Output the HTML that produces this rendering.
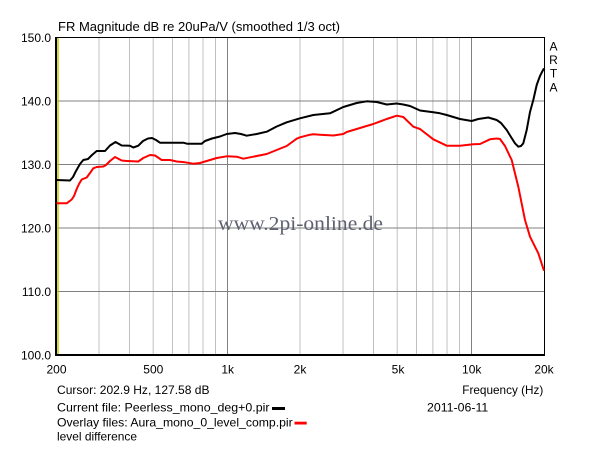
<!DOCTYPE html>
<html><head><meta charset="utf-8"><style>
html,body{margin:0;padding:0;background:#fff;}
svg{display:block;}
text{font-family:"Liberation Sans",Arial,sans-serif;fill:#000;}
</style></head><body>
<svg width="600" height="449" viewBox="0 0 600 449" xmlns="http://www.w3.org/2000/svg">
<rect x="0" y="0" width="600" height="449" fill="#fff"/>
<!-- minor vertical gridlines -->
<g stroke="#c0c0c0" stroke-width="1">
<line x1="99" y1="37" x2="99" y2="355"/>
<line x1="129.5" y1="37" x2="129.5" y2="355"/>
<line x1="153.2" y1="37" x2="153.2" y2="355"/>
<line x1="172.5" y1="37" x2="172.5" y2="355"/>
<line x1="188.9" y1="37" x2="188.9" y2="355"/>
<line x1="203" y1="37" x2="203" y2="355"/>
<line x1="215.5" y1="37" x2="215.5" y2="355"/>
<line x1="300" y1="37" x2="300" y2="355"/>
<line x1="343" y1="37" x2="343" y2="355"/>
<line x1="373.5" y1="37" x2="373.5" y2="355"/>
<line x1="397.2" y1="37" x2="397.2" y2="355"/>
<line x1="416.5" y1="37" x2="416.5" y2="355"/>
<line x1="432.9" y1="37" x2="432.9" y2="355"/>
<line x1="447" y1="37" x2="447" y2="355"/>
<line x1="459.5" y1="37" x2="459.5" y2="355"/>
</g>
<g stroke="#808080" stroke-width="1">
<line x1="227.5" y1="37" x2="227.5" y2="355"/>
<line x1="471.5" y1="37" x2="471.5" y2="355"/>
<line x1="56" y1="101" x2="544" y2="101"/>
<line x1="56" y1="164.5" x2="544" y2="164.5"/>
<line x1="56" y1="228" x2="544" y2="228"/>
<line x1="56" y1="291.5" x2="544" y2="291.5"/>
</g>
<!-- watermark -->
<text x="218" y="230" font-family="Liberation Serif, serif" style="font-family:'Liberation Serif',serif;fill:#5e6070" font-size="20" textLength="165" lengthAdjust="spacingAndGlyphs">www.2pi-online.de</text>
<!-- cursor -->
<line x1="58" y1="37" x2="58" y2="355" stroke="#c8c800" stroke-width="1.5"/>
<!-- frame -->
<rect x="56.5" y="37.5" width="488" height="317.5" fill="none" stroke="#000" stroke-width="1"/>
<line x1="56" y1="355" x2="545" y2="355" stroke="#000" stroke-width="2"/>
<line x1="56" y1="37" x2="56" y2="356" stroke="#000" stroke-width="2"/>
<!-- red curve -->
<polyline fill="none" stroke="#ff0000" stroke-width="2" stroke-linejoin="round" points="56.5,203.3 66.7,203.3 71.7,199.5 74,196 76.7,189 79,184 81.7,179.5 86.7,177.5 90,173 93.3,168.3 96.7,167 103.3,166.5 106,165 110,161 115,157 121.7,160.5 126.7,161 138.3,161.5 143.3,158 150,155 155,155.5 161.7,160 170,160 176.7,161.5 185,162.3 193.3,163.7 200,163 206.7,161 216.7,158 226.7,156.3 236.7,156.7 243.3,158.7 253.3,156.7 266.7,154 276.7,150 286.7,146 296.7,138.7 300,137.3 310,134.7 313.3,134.3 320,134.7 333.3,135.5 343.3,134 346.7,132 360,128 373.3,124 386.7,119 396.7,115.7 400,116.3 403.3,117 413.3,126.7 420,129 433.3,139.3 446.7,145.7 460,145.7 473.3,144.3 480,144 490,139.3 496.7,138.5 500,139 505,146 511.7,160 518.3,186.7 525,220 530,236.7 538.3,253.3 544,270.7"/>
<!-- black curve -->
<polyline fill="none" stroke="#000" stroke-width="2" stroke-linejoin="round" points="56.5,180 70,180.5 73,177 76,171 80,164 83.3,160 88,159 92,155 96.7,151 105,151 110,145.5 115.5,142 121.7,145.5 130,145.7 133.3,147.5 138.3,145.7 143,141 148,138.5 152,138 156,140 160,142.7 183.3,142.7 187,143.7 201.7,143.7 205,141 212,138.5 220,136.5 226.7,134 235,133 241,134 246.7,135.7 256.7,134 266.7,131.7 276.7,126.5 286.7,122.3 300,118.3 313.3,115 330,113.3 343.3,107 356.7,103 366.7,101.3 376.7,102 386.7,104.5 396.7,103.5 403.3,104.5 410,106 416.7,109 420,110.5 433.3,112.3 440,113.3 446.7,115 460,119 471.7,121 478.3,119 488.3,117.5 496.7,120 501,123 506.7,130 511,137 515,143.3 518.3,146.7 521,146 523.3,143.3 526.7,130 530,112 533.3,100 536.7,85 538.5,80 540,76 542,72 544,68.3"/>
<!-- title -->
<text x="58" y="31" font-size="13" textLength="282" lengthAdjust="spacingAndGlyphs">FR Magnitude dB re 20uPa/V (smoothed 1/3 oct)</text>
<!-- y labels -->
<g font-size="12" text-anchor="end">
<text x="51" y="42">150.0</text>
<text x="51" y="105.5">140.0</text>
<text x="51" y="169">130.0</text>
<text x="51" y="232.5">120.0</text>
<text x="51" y="296">110.0</text>
<text x="51" y="359.5">100.0</text>
</g>
<!-- x labels -->
<g font-size="12" text-anchor="middle">
<text x="56.5" y="373.5">200</text>
<text x="153.3" y="373.5">500</text>
<text x="227.7" y="373.5">1k</text>
<text x="300" y="373.5">2k</text>
<text x="398" y="373.5">5k</text>
<text x="471.7" y="373.5">10k</text>
<text x="544" y="373.5">20k</text>
</g>
<!-- ARTA -->
<g font-size="12" text-anchor="middle" style="font-weight:normal">
<text x="553.5" y="50.5">A</text>
<text x="553.5" y="64">R</text>
<text x="553.5" y="77.5">T</text>
<text x="553.5" y="91.5">A</text>
</g>
<!-- bottom texts -->
<g font-size="12">
<text x="57" y="394" textLength="152.5" lengthAdjust="spacingAndGlyphs">Cursor: 202.9 Hz, 127.58 dB</text>
<text x="57" y="411.7" textLength="212.5" lengthAdjust="spacingAndGlyphs">Current file: Peerless_mono_deg+0.pir</text>
<text x="57" y="426.7" textLength="235.7" lengthAdjust="spacingAndGlyphs">Overlay files: Aura_mono_0_level_comp.pir</text>
<text x="57" y="440.7" textLength="80" lengthAdjust="spacingAndGlyphs">level difference</text>
<text x="462.3" y="394" textLength="81" lengthAdjust="spacingAndGlyphs">Frequency (Hz)</text>
<text x="427" y="411.7" textLength="61.3" lengthAdjust="spacingAndGlyphs">2011-06-11</text>
</g>
<rect x="272" y="407" width="13" height="3" fill="#000"/>
<rect x="294.5" y="421.7" width="12.2" height="2.8" fill="#ff0000"/>
</svg>
</body></html>
